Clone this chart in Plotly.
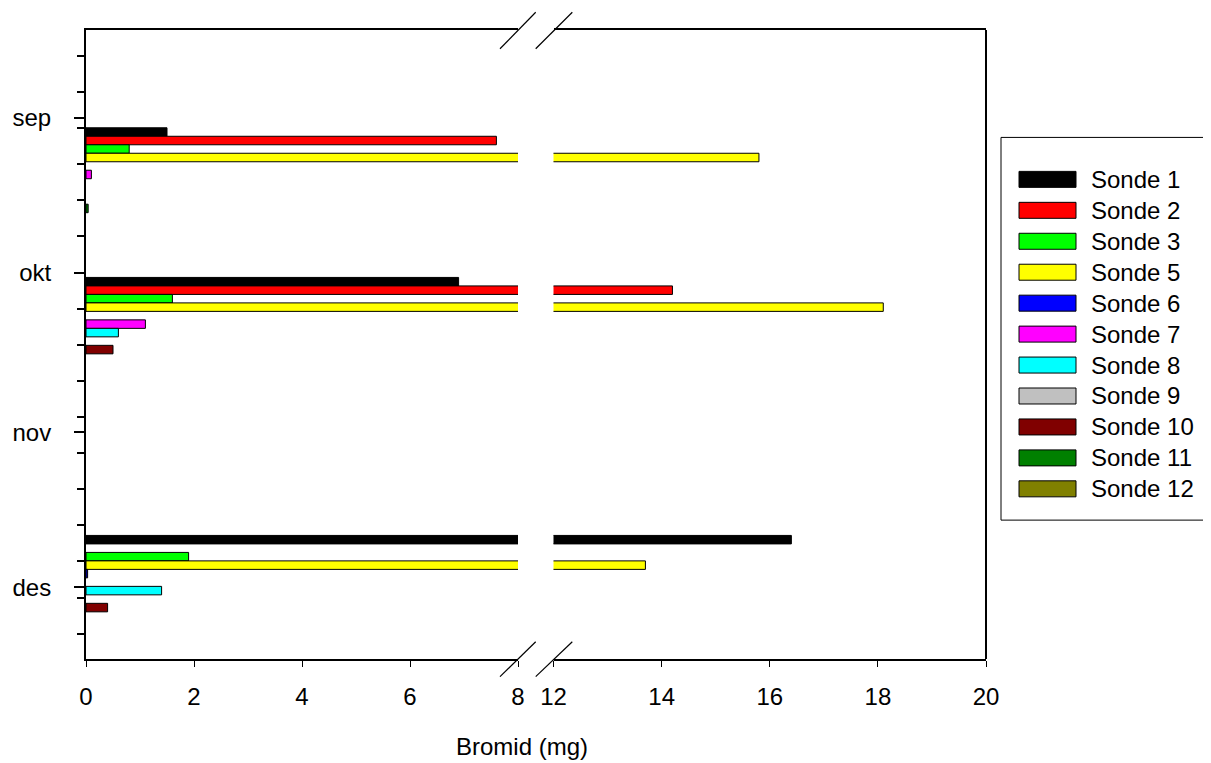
import plotly.graph_objects as go

# ---------------- data ----------------
series_names = ["Sonde 1", "Sonde 2", "Sonde 3", "Sonde 5", "Sonde 6", "Sonde 7",
                "Sonde 8", "Sonde 9", "Sonde 10", "Sonde 11", "Sonde 12"]
series_colors = ["#000000", "#FF0000", "#00FF00", "#FFFF00", "#0000FF", "#FF00FF",
                 "#00FFFF", "#C0C0C0", "#800000", "#008000", "#808000"]

# sampling positions, days after 1 September
sample_days = [11, 40, 90]

sonde1 = [1.5, 6.9, 16.4]
sonde2 = [7.6, 14.2, None]
sonde3 = [0.8, 1.6, 1.9]
sonde5 = [15.8, 18.1, 13.7]
sonde6 = [None, None, 0.03]
sonde7 = [0.1, 1.1, None]
sonde8 = [None, 0.6, 1.4]
sonde9 = [None, None, None]
sonde10 = [None, 0.5, 0.4]
sonde11 = [0.04, None, None]
sonde12 = [None, None, None]
series_values = [sonde1, sonde2, sonde3, sonde5, sonde6, sonde7,
                 sonde8, sonde9, sonde10, sonde11, sonde12]

month_labels = ["sep", "okt", "nov", "des"]
month_days = [0, 30, 61, 91]

x_left_ticks = [0, 2, 4, 6, 8]
x_right_ticks = [12, 14, 16, 18, 20]

# ---------------- layout geometry (reference pixel coords) ----------------
W, H = 1211, 763
PAGE_OFF = 8          # browser body margin
L, R, T, B = 86, 986, 29.5, 659
FONT = "Liberation Sans, Arial, sans-serif"
FS = 24


def px_x(px):
    return (px - L) / (R - L)


def px_y(py):
    return (B - py) / (B - T)


fig = go.Figure()
for name, color, vals in zip(series_names, series_colors, series_values):
    for xa in ("x", "x2"):
        fig.add_trace(go.Bar(
            y=sample_days, x=vals, orientation="h", name=name,
            xaxis=xa, yaxis="y",
            marker=dict(color=color, line=dict(color="black", width=1)),
            showlegend=False, hoverinfo="x+name",
        ))

axis_common = dict(showline=True, linecolor="black", linewidth=1.5, mirror=True,
                   showgrid=False, zeroline=False, ticks="outside", ticklen=6,
                   tickcolor="black", tickwidth=1,
                   tickfont=dict(family=FONT, size=FS, color="black"),
                   ticklabelstandoff=9, fixedrange=True, automargin=False)

fig.update_layout(
    width=W - PAGE_OFF, height=H - PAGE_OFF,
    margin=dict(l=L - PAGE_OFF, r=W - R, t=T - PAGE_OFF, b=H - B),
    paper_bgcolor="white", plot_bgcolor="white",
    barmode="group", bargap=0.376, bargroupgap=0,
    showlegend=False,
    xaxis=dict(domain=[0, px_x(518)], range=[0, 8], tickmode="array",
               tickvals=x_left_ticks, ticktext=[str(v) for v in x_left_ticks],
               anchor="y", **axis_common),
    xaxis2=dict(domain=[px_x(553.5), 1], range=[12, 20], tickmode="array",
                tickvals=x_right_ticks, ticktext=[str(v) for v in x_right_ticks],
                anchor="y", **axis_common),
    yaxis=dict(range=[104.9, -17.0], tickmode="array", tickvals=month_days,
               ticktext=month_labels, showline=True, linecolor="black", linewidth=2,
               showgrid=False, zeroline=False, ticks="outside", ticklen=10,
               tickcolor="black", tickwidth=1.5,
               tickfont=dict(family=FONT, size=FS, color="black"),
               ticklabelstandoff=18, anchor="x", fixedrange=True, automargin=False,
               minor=dict(tickmode="linear", tick0=2, dtick=7, ticks="outside",
                          ticklen=7, tickcolor="black", tickwidth=1.5)),
)

shapes = []
# right frame border
shapes.append(dict(type="line", xref="paper", yref="paper", x0=1, x1=1, y0=0, y1=1,
                   line=dict(color="black", width=2)))
# axis break marks (top and bottom)
for (ya, yb) in ((48.3, 11.7), (676.7, 641.7)):
    for (xa, xb) in ((500, 535.7), (535.7, 572.3)):
        shapes.append(dict(type="line", xref="paper", yref="paper",
                           x0=px_x(xa), y0=px_y(ya), x1=px_x(xb), y1=px_y(yb),
                           line=dict(color="black", width=1.2)))

# custom legend box
shapes.append(dict(type="rect", xref="paper", yref="paper",
                   x0=px_x(1001), x1=px_x(1210), y0=px_y(137), y1=px_y(520),
                   line=dict(color="black", width=1), fillcolor="white", layer="below"))
annotations = []
row0, row_step = 179, 30.97
for i, (name, color) in enumerate(zip(series_names, series_colors)):
    cy = row0 + i * row_step
    shapes.append(dict(type="rect", xref="paper", yref="paper",
                       x0=px_x(1019), x1=px_x(1076), y0=px_y(cy - 8), y1=px_y(cy + 8),
                       line=dict(color="black", width=1), fillcolor=color))
    annotations.append(dict(xref="paper", yref="paper", x=px_x(1089), y=px_y(cy),
                            text=name, showarrow=False, xanchor="left", yanchor="middle",
                            font=dict(family=FONT, size=FS, color="black")))

# x-axis title
annotations.append(dict(xref="paper", yref="paper", x=px_x(522), y=px_y(747),
                        text="Bromid (mg)", showarrow=False, xanchor="center",
                        yanchor="middle", font=dict(family=FONT, size=FS, color="black")))

fig.update_layout(shapes=shapes, annotations=annotations)
fig.write_html("out.html")
